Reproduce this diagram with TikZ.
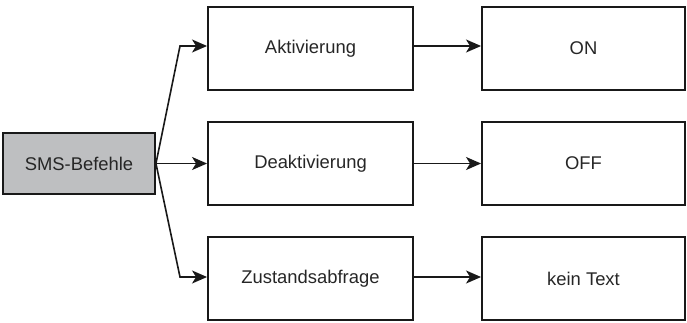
\documentclass[tikz,border=0pt]{standalone}
\usepackage{fontspec}
\setmainfont{Liberation Sans}
\usetikzlibrary{arrows.meta}
\definecolor{boxgray}{RGB}{190,191,193}
\begin{document}
\begin{tikzpicture}[x=1pt,y=1pt,
  box/.style={draw=black!90,line width=1.9pt,minimum width=205pt,minimum height=83pt,inner sep=0pt,font=\fontsize{18.4}{20}\selectfont,text=black!85},
  conn/.style={draw=black!90,line width=1.6pt,-{Stealth[length=15pt,width=13pt,inset=4pt]}}]
\useasboundingbox (0,0) rectangle (687,322);
\node[box,fill=boxgray,minimum width=152pt,minimum height=61pt] (sms) at (79,158.5) {SMS-Befehle};
\node[box] (akt) at (310.5,273.5) {Aktivierung};
\node[box] (deakt) at (310.5,158.5) {Deaktivierung};
\node[box] (zust) at (310.5,43.5) {Zustandsabfrage};
\node[box,minimum width=203pt] (on) at (583.5,273.5) {ON};
\node[box,minimum width=203pt] (off) at (583.5,158.5) {OFF};
\node[box,minimum width=203pt] (kein) at (583.5,43.5) {kein Text};
\coordinate (e1) at (180,276);
\coordinate (e3) at (180,45);
\draw[conn] (sms.east) -- (e1) -- (e1 -| akt.west);
\draw[conn] (sms.east) -- (deakt.west);
\draw[conn] (sms.east) -- (e3) -- (e3 -| zust.west);
\draw[conn] (akt.east |- e1) -- (on.west |- e1);
\draw[conn] (deakt.east) -- (off.west);
\draw[conn] (zust.east |- e3) -- (kein.west |- e3);
\end{tikzpicture}
\end{document}
